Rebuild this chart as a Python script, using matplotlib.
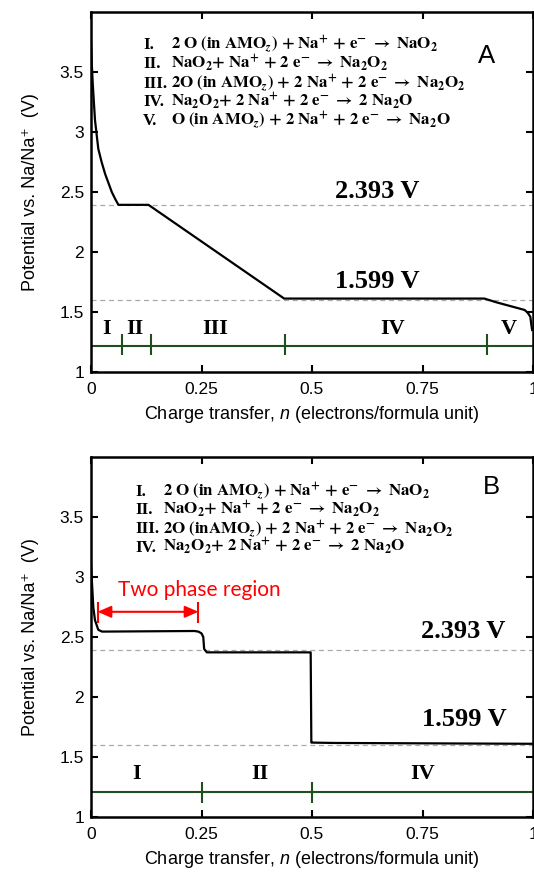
import matplotlib
matplotlib.use("Agg")
import matplotlib.pyplot as plt

plt.rcParams["font.family"] = ["Liberation Sans", "DejaVu Sans"]
plt.rcParams["mathtext.fontset"] = "custom"
plt.rcParams["mathtext.rm"] = "Liberation Sans"
plt.rcParams["mathtext.it"] = "Liberation Sans:italic"
plt.rcParams["mathtext.bf"] = "Liberation Sans:bold"

# ---- Panel A: calculated voltage profile ----
n_a = [0, 0.002, 0.004, 0.009, 0.0165, 0.024, 0.032, 0.040, 0.047, 0.055, 0.062,
       0.13, 0.437, 0.89, 0.917, 0.954, 0.981, 0.988, 0.994, 0.996, 0.998]
v_a = [3.75, 3.55, 3.40, 3.10, 2.86, 2.75, 2.65, 2.57, 2.50, 2.44, 2.393,
       2.393, 1.612, 1.612, 1.581, 1.544, 1.517, 1.494, 1.46, 1.40, 1.35]
bounds_a = [0.07, 0.1355, 0.44, 0.895]
regions_a = ["I", "II", "III", "IV", "V"]
region_pos_a = [0.035, 0.10, 0.28, 0.683, 0.946]
numerals_a = ["I.", "II.", "III.", "IV.", "V."]
reactions_a = [
    r"$\mathbf{2\ O\ (in\ AMO}_{\mathbfit{z}}\mathbf{)\ {+}\ Na^{+}\ {+}\ e^{-}\ \rightarrow\ NaO_{2}}$",
    r"$\mathbf{NaO_{2}{+}\ Na^{+}\ {+}\ 2\ e^{-}\ \rightarrow\ Na_{2}O_{2}}$",
    r"$\mathbf{2O\ (in\ AMO}_{\mathbfit{z}}\mathbf{)\ {+}\ 2\ Na^{+}\ {+}\ 2\ e^{-}\ \rightarrow\ Na_{2}O_{2}}$",
    r"$\mathbf{Na_{2}O_{2}{+}\ 2\ Na^{+}\ {+}\ 2\ e^{-}\ \rightarrow\ 2\ Na_{2}O}$",
    r"$\mathbf{O\ (in\ AMO}_{\mathbfit{z}}\mathbf{)\ {+}\ 2\ Na^{+}\ {+}\ 2\ e^{-}\ \rightarrow\ Na_{2}O}$",
]

# ---- Panel B: voltage profile with two phase region ----
n_b = [0, 0.003, 0.0052, 0.009, 0.0165, 0.025, 0.234, 0.243, 0.25, 0.254,
       0.256, 0.262, 0.497, 0.4985, 0.5, 0.55, 1.0]
v_b = [3.10, 2.90, 2.75, 2.64, 2.56, 2.545, 2.55, 2.545, 2.53, 2.50,
       2.40, 2.372, 2.372, 1.62, 1.62, 1.617, 1.61]
bounds_b = [0.25, 0.5]
regions_b = ["I", "II", "IV"]
region_pos_b = [0.103, 0.382, 0.751]
numerals_b = ["I.", "II.", "III.", "IV."]
reactions_b = [
    r"$\mathbf{2\ O\ (in\ AMO}_{\mathbfit{z}}\mathbf{)\ {+}\ Na^{+}\ {+}\ e^{-}\ \rightarrow\ NaO_{2}}$",
    r"$\mathbf{NaO_{2}{+}\ Na^{+}\ {+}\ 2\ e^{-}\ \rightarrow\ Na_{2}O_{2}}$",
    r"$\mathbf{2O\ (inAMO}_{\mathbfit{z}}\mathbf{)\ {+}\ 2\ Na^{+}\ {+}\ 2\ e^{-}\ \rightarrow\ Na_{2}O_{2}}$",
    r"$\mathbf{Na_{2}O_{2}{+}\ 2\ Na^{+}\ {+}\ 2\ e^{-}\ \rightarrow\ 2\ Na_{2}O}$",
]
two_phase = [0.015, 0.243]

ref_levels = [2.393, 1.599]
ref_labels = ["2.393 V", "1.599 V"]

x_ticks = [0, 0.25, 0.5, 0.75, 1]
x_ticklabels = ["0", "0.25", "0.5", "0.75", "1"]
y_ticks = [1, 1.5, 2, 2.5, 3, 3.5]
y_ticklabels = ["1", "1.5", "2", "2.5", "3", "3.5"]

W, H = 534, 872
fig = plt.figure(figsize=(W / 100, H / 100), dpi=100)

GREEN = "#1f4f1f"
SERIF = "Liberation Serif"
EQ_SIZE = 12.2


def make_axes(top_px, bottom_px):
    left_px, right_px = 91, 533
    ax = fig.add_axes([left_px / W, 1 - bottom_px / H,
                       (right_px - left_px) / W, (bottom_px - top_px) / H])
    ax.set_xlim(0, 1)
    ax.set_ylim(1, 4)
    ax.set_xticks(x_ticks)
    ax.set_xticklabels(x_ticklabels)
    ax.set_yticks(y_ticks)
    ax.set_yticklabels(y_ticklabels)
    ax.tick_params(direction="in", length=5, width=1.5, top=True, right=True,
                   labelsize=12.5, colors="black")
    ax.tick_params(axis="x", pad=7)
    ax.tick_params(axis="y", pad=5)
    for s in ax.spines.values():
        s.set_linewidth(1.8)
    ax.set_xlabel("Charge transfer, $n$ (electrons/formula unit)", fontsize=13, labelpad=5)
    ax.set_ylabel("Potential vs. Na/Na\u207a  (V)", fontsize=13, labelpad=15)
    return ax


def draw_common(ax, n, v, bounds, regions, region_pos, green_y, tick_lo, tick_hi):
    for lvl in ref_levels:
        ax.axhline(lvl, color="#aaaaaa", lw=0.9, ls=(0, (4, 3)), zorder=1)
    ax.plot(n, v, color="black", lw=1.6, zorder=3, solid_joinstyle="round")
    ax.axhline(green_y, color=GREEN, lw=1.5, zorder=2)
    ax.vlines(bounds, tick_lo, tick_hi, color=GREEN, lw=1.5, zorder=2)
    for lab, x in zip(regions, region_pos):
        ax.text(x, 1.358, lab, family=SERIF, weight="bold", fontsize=16,
                ha="center", va="center")


def draw_reactions(ax, numerals, reactions, base_v, x_num, x_eq, x_eq3):
    for i, (lab, eq, vy) in enumerate(zip(numerals, reactions, base_v)):
        ax.text(x_num, vy, lab, family=SERIF, weight="bold", fontsize=EQ_SIZE,
                va="baseline")
        ax.text(x_eq3 if i == 2 else x_eq, vy, eq, fontsize=EQ_SIZE,
                math_fontfamily="stix", va="baseline")


# Panel A
ax1 = make_axes(12, 372)
draw_common(ax1, n_a, v_a, bounds_a, regions_a, region_pos_a, 1.22, 1.14, 1.32)
draw_reactions(ax1, numerals_a, reactions_a, [3.692, 3.533, 3.367, 3.217, 3.058],
               0.1175, 0.181, 0.180)
ax1.text(0.894, 3.633, "A", fontsize=18.5, ha="center", va="center")
ax1.text(0.648, 2.50, ref_labels[0], family=SERIF, weight="bold", fontsize=19,
         ha="center", va="center")
ax1.text(0.648, 1.752, ref_labels[1], family=SERIF, weight="bold", fontsize=19,
         ha="center", va="center")

# Panel B
ax2 = make_axes(457, 817)
draw_common(ax2, n_b, v_b, bounds_b, regions_b, region_pos_b, 1.206, 1.12, 1.29)
draw_reactions(ax2, numerals_b, reactions_b, [3.675, 3.525, 3.364, 3.211],
               0.0994, 0.162, 0.162)
ax2.text(0.905, 3.748, "B", fontsize=18.5, ha="center", va="center")
ax2.text(0.841, 2.545, ref_labels[0], family=SERIF, weight="bold", fontsize=19,
         ha="center", va="center")
ax2.text(0.845, 1.81, ref_labels[1], family=SERIF, weight="bold", fontsize=19,
         ha="center", va="center")

# two phase region marker
ax2.annotate("", xy=(two_phase[1], 2.71), xytext=(two_phase[0], 2.71),
             arrowprops=dict(arrowstyle="<|-|>,head_length=0.8,head_width=0.35",
                             color="red", lw=1.5, shrinkA=0, shrinkB=0,
                             mutation_scale=10))
ax2.vlines(two_phase, 2.62, 2.79, color="red", lw=1.5)
ax2.text(sum(two_phase) / 2 + 0.116, 2.844, "Two phase region", color="red",
         family="Lato", fontsize=15, ha="center", va="baseline")

fig.savefig("out.png", dpi=100)
